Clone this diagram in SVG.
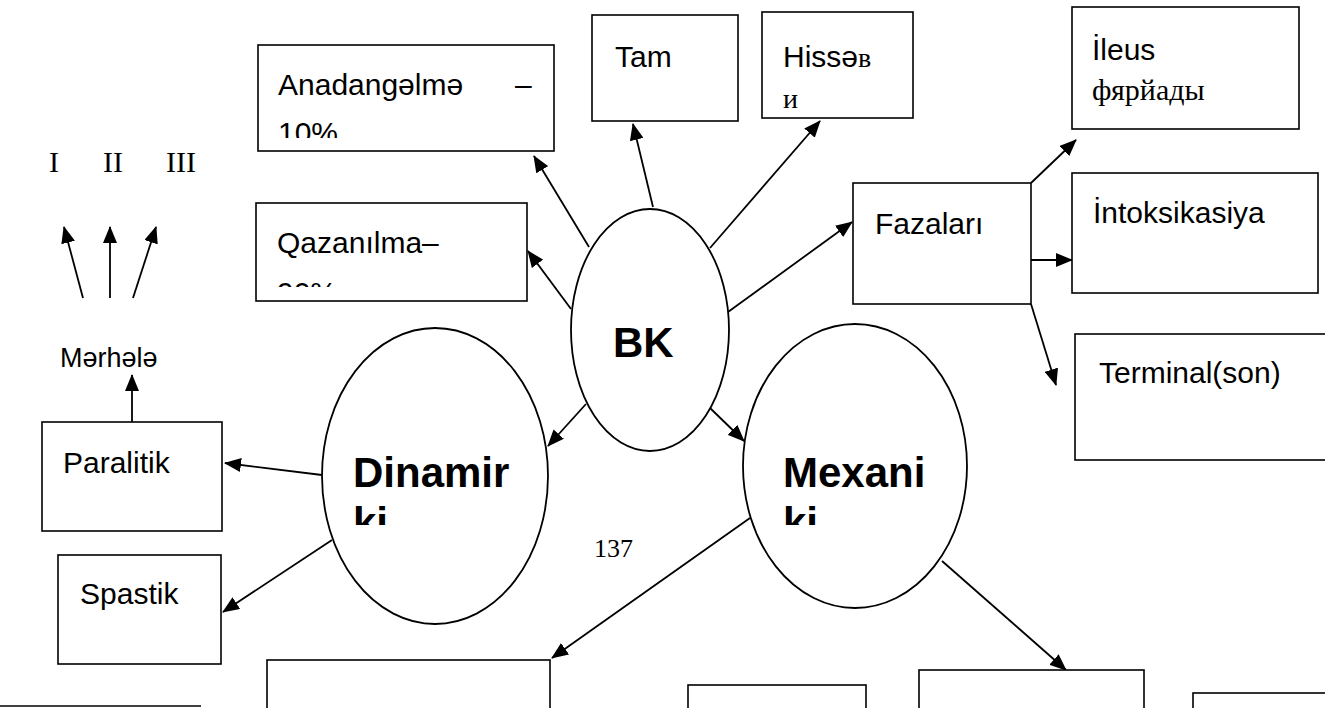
<svg xmlns="http://www.w3.org/2000/svg" width="1325" height="708" viewBox="0 0 1325 708">
<style>
.box{fill:#fff;stroke:#000;stroke-width:1.6}
.ell{fill:#fff;stroke:#000;stroke-width:1.8}
.t{font-family:"Liberation Sans",Arial,sans-serif;font-size:30px;fill:#000}
.tr{font-family:"Liberation Serif","Times New Roman",serif;font-size:30px;fill:#000}
.tb{font-family:"Liberation Sans",Arial,sans-serif;font-size:42px;font-weight:bold;fill:#000}
.c{stroke:#000;stroke-width:1.8;fill:none;marker-end:url(#ah)}
</style>
<defs>
<marker id="ah" viewBox="0 0 17 14" refX="16" refY="7" markerWidth="17" markerHeight="14" markerUnits="userSpaceOnUse" orient="auto">
<path d="M0,0 L17,7 L0,14 z" fill="#000"/>
</marker>
<clipPath id="cA"><rect x="258" y="45" width="296" height="93"/></clipPath>
<clipPath id="cQ"><rect x="256" y="203" width="271" height="84"/></clipPath>
<clipPath id="cD"><rect x="322" y="328" width="226" height="197"/></clipPath>
<clipPath id="cM"><rect x="743" y="325" width="226" height="200"/></clipPath>
</defs>

<g id="connectors">
<line class="c" x1="589" y1="247" x2="534" y2="156"/>
<line class="c" x1="571" y1="309" x2="528" y2="251"/>
<line class="c" x1="653" y1="207" x2="633" y2="124"/>
<line class="c" x1="710" y1="248" x2="820" y2="121"/>
<line class="c" x1="728" y1="312" x2="852" y2="222"/>
<line class="c" x1="1031" y1="183" x2="1076" y2="140"/>
<line class="c" x1="1031" y1="260" x2="1072" y2="260"/>
<line class="c" x1="1031" y1="304" x2="1056" y2="385"/>
<line class="c" x1="586" y1="404" x2="548" y2="446"/>
<line class="c" x1="710" y1="408" x2="744" y2="441"/>
<line class="c" x1="322" y1="475" x2="225" y2="463"/>
<line class="c" x1="332" y1="540" x2="223" y2="612"/>
<line class="c" x1="750" y1="518" x2="552" y2="658"/>
<line class="c" x1="942" y1="561" x2="1066" y2="670"/>
<line class="c" x1="132" y1="422" x2="132" y2="375"/>
<line class="c" x1="83" y1="298" x2="64" y2="227"/>
<line class="c" x1="110" y1="298" x2="110" y2="227"/>
<line class="c" x1="133" y1="298" x2="156" y2="227"/>
</g>

<g id="node-anadangelme">
<rect class="box" x="258" y="45" width="296" height="106"/>
<g clip-path="url(#cA)">
<text class="t" x="278" y="95">Anadangəlmə</text>
<text class="t" x="515" y="95">–</text>
<text class="t" x="278" y="143">10%</text>
</g>
</g>

<g id="node-tam">
<rect class="box" x="592" y="15" width="146" height="106"/>
<text class="t" x="615" y="67">Tam</text>
</g>

<g id="node-hisse">
<rect class="box" x="762" y="12" width="151" height="106"/>
<text class="t" x="783" y="67">Hissə<tspan class="tr" style="font-size:28px">в</tspan></text>
<text class="tr" x="783" y="108" style="font-size:28px">и</text>
</g>

<g id="node-ileus">
<rect class="box" x="1072" y="7" width="227" height="122"/>
<text class="t" x="1092" y="60">İleus</text>
<text class="tr" x="1092" y="100">фярйады</text>
</g>

<g id="node-qazanilma">
<rect class="box" x="256" y="203" width="271" height="98"/>
<g clip-path="url(#cQ)">
<text class="t" x="277" y="253">Qazanılma–</text>
<text class="t" x="277" y="303">90%</text>
</g>
</g>

<g id="node-fazalari">
<rect class="box" x="853" y="183" width="178" height="121"/>
<text class="t" x="875" y="234">Fazaları</text>
</g>

<g id="node-intoksikasiya">
<rect class="box" x="1072" y="173" width="246" height="120"/>
<text class="t" x="1093" y="223">İntoksikasiya</text>
</g>

<g id="node-terminal">
<rect class="box" x="1075" y="334" width="260" height="126"/>
<text class="t" x="1099" y="383">Terminal(son)</text>
</g>

<g id="node-bk">
<ellipse class="ell" cx="650" cy="330" rx="79" ry="121"/>
<text class="tb" x="613" y="357">BK</text>
</g>

<g id="node-dinamirki">
<ellipse class="ell" cx="435" cy="476" rx="113" ry="148"/>
<g clip-path="url(#cD)">
<text class="tb" x="353" y="487">Dinamir</text>
<text class="tb" x="353" y="537">ki</text>
</g>
</g>

<g id="node-mexaniki">
<ellipse class="ell" cx="855" cy="466" rx="112" ry="142"/>
<g clip-path="url(#cM)">
<text class="tb" x="783" y="487">Mexani</text>
<text class="tb" x="783" y="537">ki</text>
</g>
</g>

<g id="node-merhele">
<text class="t" x="60" y="367" style="font-size:27px">Mərhələ</text>
</g>

<g id="node-stages">
<text class="tr" x="49" y="172">I</text>
<text class="tr" x="103" y="172">II</text>
<text class="tr" x="166" y="172">III</text>
</g>

<g id="node-paralitik">
<rect class="box" x="42" y="422" width="180" height="109"/>
<text class="t" x="63" y="473">Paralitik</text>
</g>

<g id="node-spastik">
<rect class="box" x="58" y="555" width="163" height="109"/>
<text class="t" x="80" y="604">Spastik</text>
</g>

<g id="node-bottom1"><rect class="box" x="267" y="660" width="283" height="60"/></g>
<g id="node-bottom2"><rect class="box" x="688" y="685" width="178" height="40"/></g>
<g id="node-bottom3"><rect class="box" x="919" y="670" width="225" height="50"/></g>
<g id="node-bottom4"><rect class="box" x="1193" y="693" width="140" height="30"/></g>

<g id="page-number">
<text class="tr" x="594" y="557" style="font-size:26px">137</text>
</g>
<line x1="0" y1="706" x2="201" y2="706" stroke="#000" stroke-width="1.5"/>
</svg>
